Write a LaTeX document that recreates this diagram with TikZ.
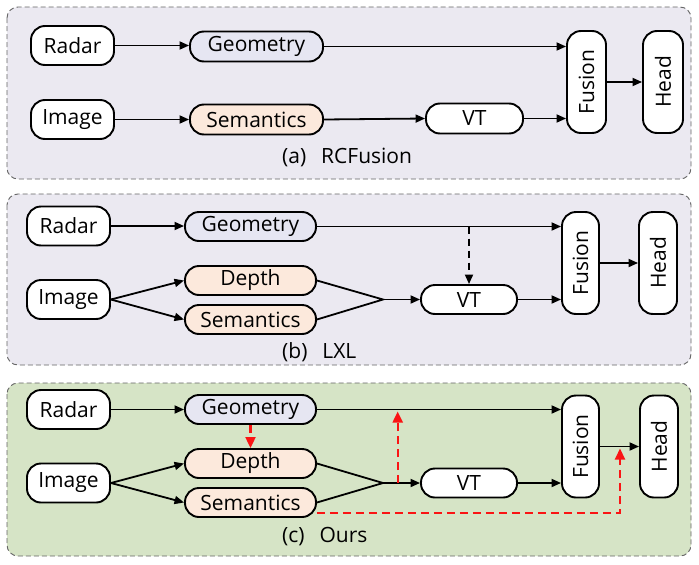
\documentclass[tikz,border=0pt]{standalone}
\usepackage{fontspec}
\setmainfont{Open Sans}
\usetikzlibrary{arrows.meta,calc}
\definecolor{panelab}{RGB}{235,233,241}
\definecolor{panelc}{RGB}{214,228,198}
\definecolor{peach}{RGB}{252,233,220}
\definecolor{lav}{RGB}{230,230,242}
\definecolor{bordergray}{RGB}{100,100,100}
\definecolor{redline}{RGB}{250,20,20}
\tikzset{
  panel/.style={draw=bordergray, line width=0.9pt, dash pattern=on 5pt off 3pt, rounded corners=11pt},
  box/.style={draw=black, line width=1.9pt, rounded corners=14pt, inner sep=0pt, font=\fontsize{21}{25}\selectfont},
  inbox/.style={box, fill=white, minimum width=83pt, minimum height=39pt},
  midbox/.style={box, minimum width=131pt, minimum height=29pt},
  vtbox/.style={box, fill=white, minimum width=96pt, minimum height=29pt},
  tallbox/.style={box, fill=white, minimum width=102pt, minimum height=38pt, rotate=90},
  conn/.style={line width=1.8pt, -{Triangle[length=9.5pt,width=8pt]}},
  plain/.style={line width=1.8pt},
  blackdash/.style={conn, dash pattern=on 7pt off 5pt},
  reddash/.style={draw=redline, line width=2.1pt, dash pattern=on 8pt off 5pt, -{Triangle[length=11pt,width=10pt]}},
  lbl/.style={anchor=west, inner sep=0pt, font=\fontsize{21}{25}\selectfont}
}
\begin{document}
\begin{tikzpicture}[x=1pt,y=-1pt]
\useasboundingbox (0,0) rectangle (699,565);
% panels
\path[panel, fill=panelab] (7,7) rectangle (691,179);
\path[panel, fill=panelab] (7,194) rectangle (691,365);
\path[panel, fill=panelc] (7,383) rectangle (691,556);

% ---------- (a) ----------
\node[inbox] (radarA) at (72.5,45.5) {Radar};
\node[midbox, fill=lav, minimum width=133pt, minimum height=30pt] (geoA) at (256.5,46.5) {Geometry};
\node[inbox] (imgA) at (72.5,119.5) {Image};
\node[midbox, fill=peach, minimum width=133pt, minimum height=30pt] (semA) at (256.5,119.5) {Semantics};
\node[vtbox, minimum width=97pt, minimum height=30pt] (vtA) at (474.5,118.5) {VT};
\node[tallbox, minimum height=39pt] (fusA) at (586.5,82) {Fusion};
\node[tallbox, minimum height=40pt] (headA) at (663,82) {Head};
\draw[conn] (radarA.east) -- (radarA.east -| geoA.west);
\draw[conn] (geoA.east) -- (geoA.east -| fusA.north);
\draw[conn] (imgA.east) -- (imgA.east -| semA.west);
\draw[conn] (semA.east) -- (vtA.west);
\draw[conn] (vtA.east) -- (vtA.east -| fusA.north);
\draw[conn] (fusA.south) -- (fusA.south -| headA.north);
\node[lbl] (labA) at (282,157) {(a)\hspace{0.45em} RCFusion};

% ---------- (b) ----------
\node[inbox] (radarB) at (68.5,226) {Radar};
\node[midbox, fill=lav] (geoB) at (250.5,226.5) {Geometry};
\node[midbox, fill=peach] (depB) at (250.5,280.5) {Depth};
\node[midbox, fill=peach] (semB) at (250.5,319.5) {Semantics};
\node[inbox] (imgB) at (68.5,299.5) {Image};
\node[vtbox] (vtB) at (469,299.5) {VT};
\node[tallbox, minimum height=37pt] (fusB) at (580.5,263) {Fusion};
\node[tallbox] (headB) at (658,263) {Head};
\coordinate (mB) at (383,299.5);
\coordinate (dB) at (vtB.north |- geoB.east);
\draw[conn] (radarB.east) -- (radarB.east -| geoB.west);
\draw[conn] (geoB.east) -- (geoB.east -| fusB.north);
\draw[blackdash] (dB) -- (vtB.north);
\draw[conn] (imgB.east) -- (depB.west);
\draw[conn] (imgB.east) -- (semB.west);
\draw[plain] (depB.east) -- (mB) -- (semB.east);
\draw[conn] (mB) -- (vtB.west);
\draw[conn] (vtB.east) -- (vtB.east -| fusB.north);
\draw[conn] (fusB.south) -- (fusB.south -| headB.north);
\node[lbl] (labB) at (282,352) {(b)\hspace{0.45em} LXL};

% ---------- (c) ----------
\node[inbox] (radarC) at (68.5,409.5) {Radar};
\node[midbox, fill=lav] (geoC) at (250.5,409.5) {Geometry};
\node[midbox, fill=peach] (depC) at (250.5,463.5) {Depth};
\node[midbox, fill=peach] (semC) at (250.5,502.5) {Semantics};
\node[inbox] (imgC) at (68.5,483) {Image};
\node[vtbox] (vtC) at (469,483) {VT};
\node[tallbox, minimum height=37pt] (fusC) at (580.5,446.5) {Fusion};
\node[tallbox] (headC) at (659,446.5) {Head};
\coordinate (mC) at (383,483);
\coordinate (r1s) at (397.7,483);
\coordinate (r1e) at (397.7,411.5);
\coordinate (r2s) at ($(semC.east)+(0,10.5)$);
\coordinate (r2e) at (620,448.5);
\draw[conn] (radarC.east) -- (radarC.east -| geoC.west);
\draw[conn] (geoC.east) -- (geoC.east -| fusC.north);
\draw[conn] (imgC.east) -- (depC.west);
\draw[conn] (imgC.east) -- (semC.west);
\draw[plain] (depC.east) -- (mC) -- (semC.east);
\draw[conn] (mC) -- (vtC.west);
\draw[conn] (vtC.east) -- (vtC.east -| fusC.north);
\draw[conn] (fusC.south) -- (fusC.south -| headC.north);
\draw[reddash] (geoC.south) -- (depC.north);
\draw[reddash] (r1s) -- (r1e);
\draw[reddash] (r2s) -| (r2e);
\node[lbl] (labC) at (282,537) {(c)\hspace{0.45em} Ours};
\end{tikzpicture}
\end{document}
